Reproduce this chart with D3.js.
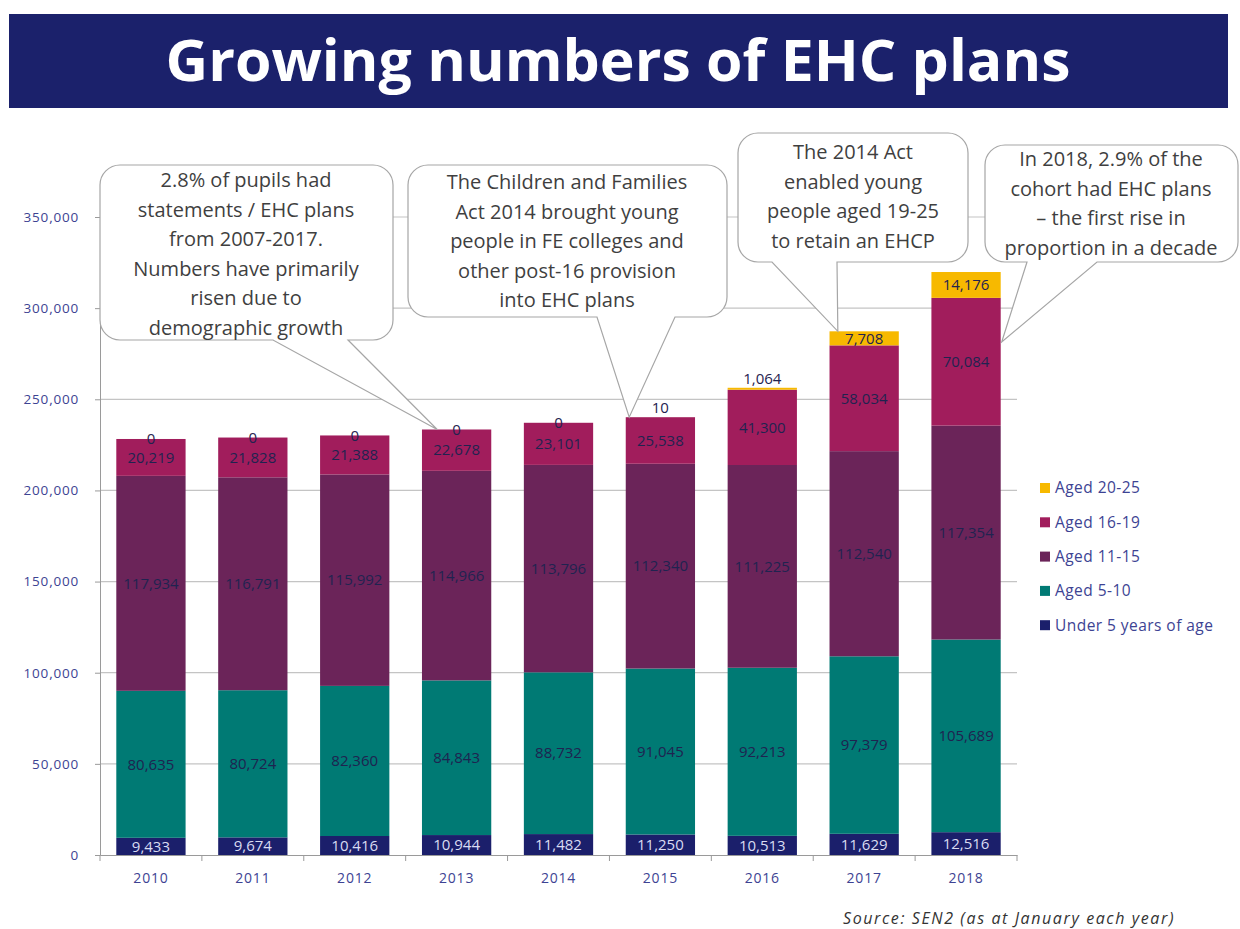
<!DOCTYPE html>
<html>
<head>
<meta charset="utf-8">
<script src="https://cdn.jsdelivr.net/npm/d3@7"></script>
<style>
  body { margin: 0; background: #fff; }
  svg { font-family: "Open Sans", sans-serif; }
</style>
</head>
<body>
<div id="chart"></div>
<script>
let width = 1240;
let height = 929;

// Data
let years = ["2010", "2011", "2012", "2013", "2014", "2015", "2016", "2017", "2018"];
let under5 = [9433, 9674, 10416, 10944, 11482, 11250, 10513, 11629, 12516];
let aged5to10 = [80635, 80724, 82360, 84843, 88732, 91045, 92213, 97379, 105689];
let aged11to15 = [117934, 116791, 115992, 114966, 113796, 112340, 111225, 112540, 117354];
let aged16to19 = [20219, 21828, 21388, 22678, 23101, 25538, 41300, 58034, 70084];
let aged20to25 = [0, 0, 0, 0, 0, 10, 1064, 7708, 14176];
let seriesNames = ["Under 5 years of age", "Aged 5-10", "Aged 11-15", "Aged 16-19", "Aged 20-25"];
let yTicks = [0, 50000, 100000, 150000, 200000, 250000, 300000, 350000];

let colors = d3.scaleOrdinal()
    .domain(seriesNames)
    .range(["#1b1f6b", "#007a74", "#6b2459", "#a11d5c", "#f7b900"]);

let svg = d3.select("#chart").append("svg")
    .attr("width", width)
    .attr("height", height);

// Title banner
svg.append("rect")
    .attr("x", 9).attr("y", 14).attr("width", 1219).attr("height", 94)
    .attr("fill", "#1b216b");
svg.append("text")
    .attr("x", 618).attr("y", 81)
    .attr("text-anchor", "middle")
    .attr("fill", "#fff")
    .attr("font-weight", 700)
    .attr("font-size", 57)
    .attr("textLength", 905)
    .attr("lengthAdjust", "spacingAndGlyphs")
    .text("Growing numbers of EHC plans");

let xScale = d3.scaleBand()
    .domain(years)
    .range([100, 1017])
    .paddingInner(0.32)
    .paddingOuter(0.16);

let yScale = d3.scaleLinear()
    .domain([0, 350000])
    .range([855, 217]);

// gridlines
svg.append("g")
    .selectAll("line")
    .data(yTicks.slice(1))
    .join("line")
    .attr("x1", 100).attr("x2", 1017)
    .attr("y1", d => yScale(d)).attr("y2", d => yScale(d))
    .attr("stroke", "#c4c4c4")
    .attr("stroke-width", 1.2);

// y axis
let yAxis = svg.append("g")
    .attr("transform", "translate(100,0)")
    .call(d3.axisLeft(yScale).tickValues(yTicks).tickSize(5).tickPadding(16)
        .tickFormat(d3.format(",")));
yAxis.select(".domain").attr("stroke", "#9a9a9a");
yAxis.selectAll(".tick line").attr("stroke", "#9a9a9a");
yAxis.selectAll("text")
    .attr("fill", "#3d4393")
    .attr("font-size", 13.5)
    .attr("letter-spacing", 0.8)
    .attr("font-family", "'Open Sans', sans-serif");

// x axis
let xAxis = svg.append("g")
    .attr("transform", "translate(0,855)")
    .call(d3.axisBottom(xScale).tickSize(0).tickPadding(18).tickSizeOuter(0));
xAxis.select(".domain").attr("stroke", "#9a9a9a");
xAxis.selectAll("text")
    .attr("fill", "#3d4393")
    .attr("font-size", 14)
    .attr("letter-spacing", 0.8)
    .attr("font-family", "'Open Sans', sans-serif");
// ticks between the categories
xAxis.append("g")
    .selectAll("line")
    .data(d3.range(years.length + 1))
    .join("line")
    .attr("x1", i => 100 + i * xScale.step())
    .attr("x2", i => 100 + i * xScale.step())
    .attr("y1", 0).attr("y2", 6)
    .attr("stroke", "#9a9a9a");

// Stack the series
let table = years.map((y, i) => ({
    year: y,
    "Under 5 years of age": under5[i],
    "Aged 5-10": aged5to10[i],
    "Aged 11-15": aged11to15[i],
    "Aged 16-19": aged16to19[i],
    "Aged 20-25": aged20to25[i]
}));
let stacked = d3.stack().keys(seriesNames)(table);

let layers = svg.append("g")
    .selectAll("g")
    .data(stacked)
    .join("g")
    .attr("fill", d => colors(d.key));

layers.selectAll("rect")
    .data(d => d)
    .join("rect")
    .attr("x", d => xScale(d.data.year))
    .attr("width", xScale.bandwidth())
    .attr("y", d => yScale(d[1]))
    .attr("height", d => yScale(d[0]) - yScale(d[1]));

// Data labels
let labels = svg.append("g")
    .attr("text-anchor", "middle")
    .attr("font-size", 15)
    .attr("font-family", "'Open Sans', sans-serif");

stacked.forEach(layer => {
    labels.append("g")
        .selectAll("text")
        .data(layer)
        .join("text")
        .attr("x", d => xScale(d.data.year) + xScale.bandwidth() / 2)
        .attr("y", d => {
            let top = yScale(d[1]);
            let h = yScale(d[0]) - top;
            let v = d[1] - d[0];
            if (h < 12) return top - (v > 0 ? 9 : 0);
            return top + h / 2;
        })
        .attr("dy", "0.35em")
        .attr("fill", layer.key === "Under 5 years of age" ? "#d9dcf2" : "#1f2350")
        .text(d => d3.format(",")(d[1] - d[0]));
});

// Callouts
let totals = table.map(d => seriesNames.reduce((s, k) => s + d[k], 0));
function tip(year, fx) {
    let i = years.indexOf(year);
    return [xScale(year) + xScale.bandwidth() * fx, yScale(totals[i])];
}

let callouts = [
    { x0: 100, y0: 165, x1: 393, y1: 340, tail: [273, 348], tip: tip("2013", 0.22), cx: 246, ty: 180,
      lines: ["2.8% of pupils had", "statements / EHC plans", "from 2007-2017.", "Numbers have primarily", "risen due to", "demographic growth"] },
    { x0: 408, y0: 165, x1: 727, y1: 317, tail: [597, 675], tip: tip("2015", 0.05), cx: 567, ty: 182,
      lines: ["The Children and Families", "Act 2014 brought young", "people in FE colleges and", "other post-16 provision", "into EHC plans"] },
    { x0: 738, y0: 133, x1: 968, y1: 262, tail: [772, 837], tip: tip("2017", 0.12), cx: 853, ty: 152,
      lines: ["The 2014 Act", "enabled young", "people aged 19-25", "to retain an EHCP"] },
    { x0: 985, y0: 145, x1: 1238, y1: 262, tail: [1027, 1097], tip: [xScale("2018") + xScale.bandwidth() + 1, yScale(totals[8]) + 70], cx: 1111, ty: 159,
      lines: ["In 2018, 2.9% of the", "cohort had EHC plans", "\u2013 the first rise in", "proportion in a decade"] }
];

function calloutPath(c) {
    let r = 20;
    let p = d3.path();
    p.moveTo(c.x0 + r, c.y0);
    p.lineTo(c.x1 - r, c.y0);
    p.arcTo(c.x1, c.y0, c.x1, c.y0 + r, r);
    p.lineTo(c.x1, c.y1 - r);
    p.arcTo(c.x1, c.y1, c.x1 - r, c.y1, r);
    p.lineTo(c.tail[1], c.y1);
    p.lineTo(c.tip[0], c.tip[1]);
    p.lineTo(c.tail[0], c.y1);
    p.lineTo(c.x0 + r, c.y1);
    p.arcTo(c.x0, c.y1, c.x0, c.y1 - r, r);
    p.lineTo(c.x0, c.y0 + r);
    p.arcTo(c.x0, c.y0, c.x0 + r, c.y0, r);
    p.closePath();
    return p.toString();
}

let cg = svg.append("g");
callouts.forEach(c => {
    cg.append("path")
        .attr("d", calloutPath(c))
        .attr("fill", "#fff")
        .attr("stroke", "#a6a6a6")
        .attr("stroke-width", 1.2);
    cg.append("g")
        .selectAll("text")
        .data(c.lines)
        .join("text")
        .attr("x", c.cx)
        .attr("y", (d, i) => c.ty + i * 29.6)
        .attr("dy", "0.35em")
        .attr("text-anchor", "middle")
        .attr("fill", "#3f3f3f")
        .attr("font-size", 20)
        .attr("font-family", "'Open Sans', sans-serif")
        .text(d => d);
});

// Legend
let legendOrder = seriesNames.slice().reverse();
let legend = svg.append("g")
    .selectAll("g")
    .data(legendOrder)
    .join("g")
    .attr("transform", (d, i) => "translate(1040," + (488 + i * 34.3) + ")");
legend.append("rect")
    .attr("x", 0).attr("y", -5)
    .attr("width", 10).attr("height", 10)
    .attr("fill", d => colors(d));
legend.append("text")
    .attr("x", 15).attr("dy", "0.35em")
    .attr("fill", "#3d4393")
    .attr("font-size", 15.5)
    .attr("letter-spacing", 0.45)
    .attr("font-family", "'Open Sans', sans-serif")
    .text(d => d);

// Source
svg.append("text")
    .attr("x", 843).attr("y", 924)
    .attr("fill", "#333")
    .attr("font-style", "italic")
    .attr("font-size", 16)
    .attr("letter-spacing", 1.6)
    .attr("font-family", "'Open Sans', sans-serif")
    .text("Source: SEN2 (as at January each year)");
</script>
</body>
</html>
